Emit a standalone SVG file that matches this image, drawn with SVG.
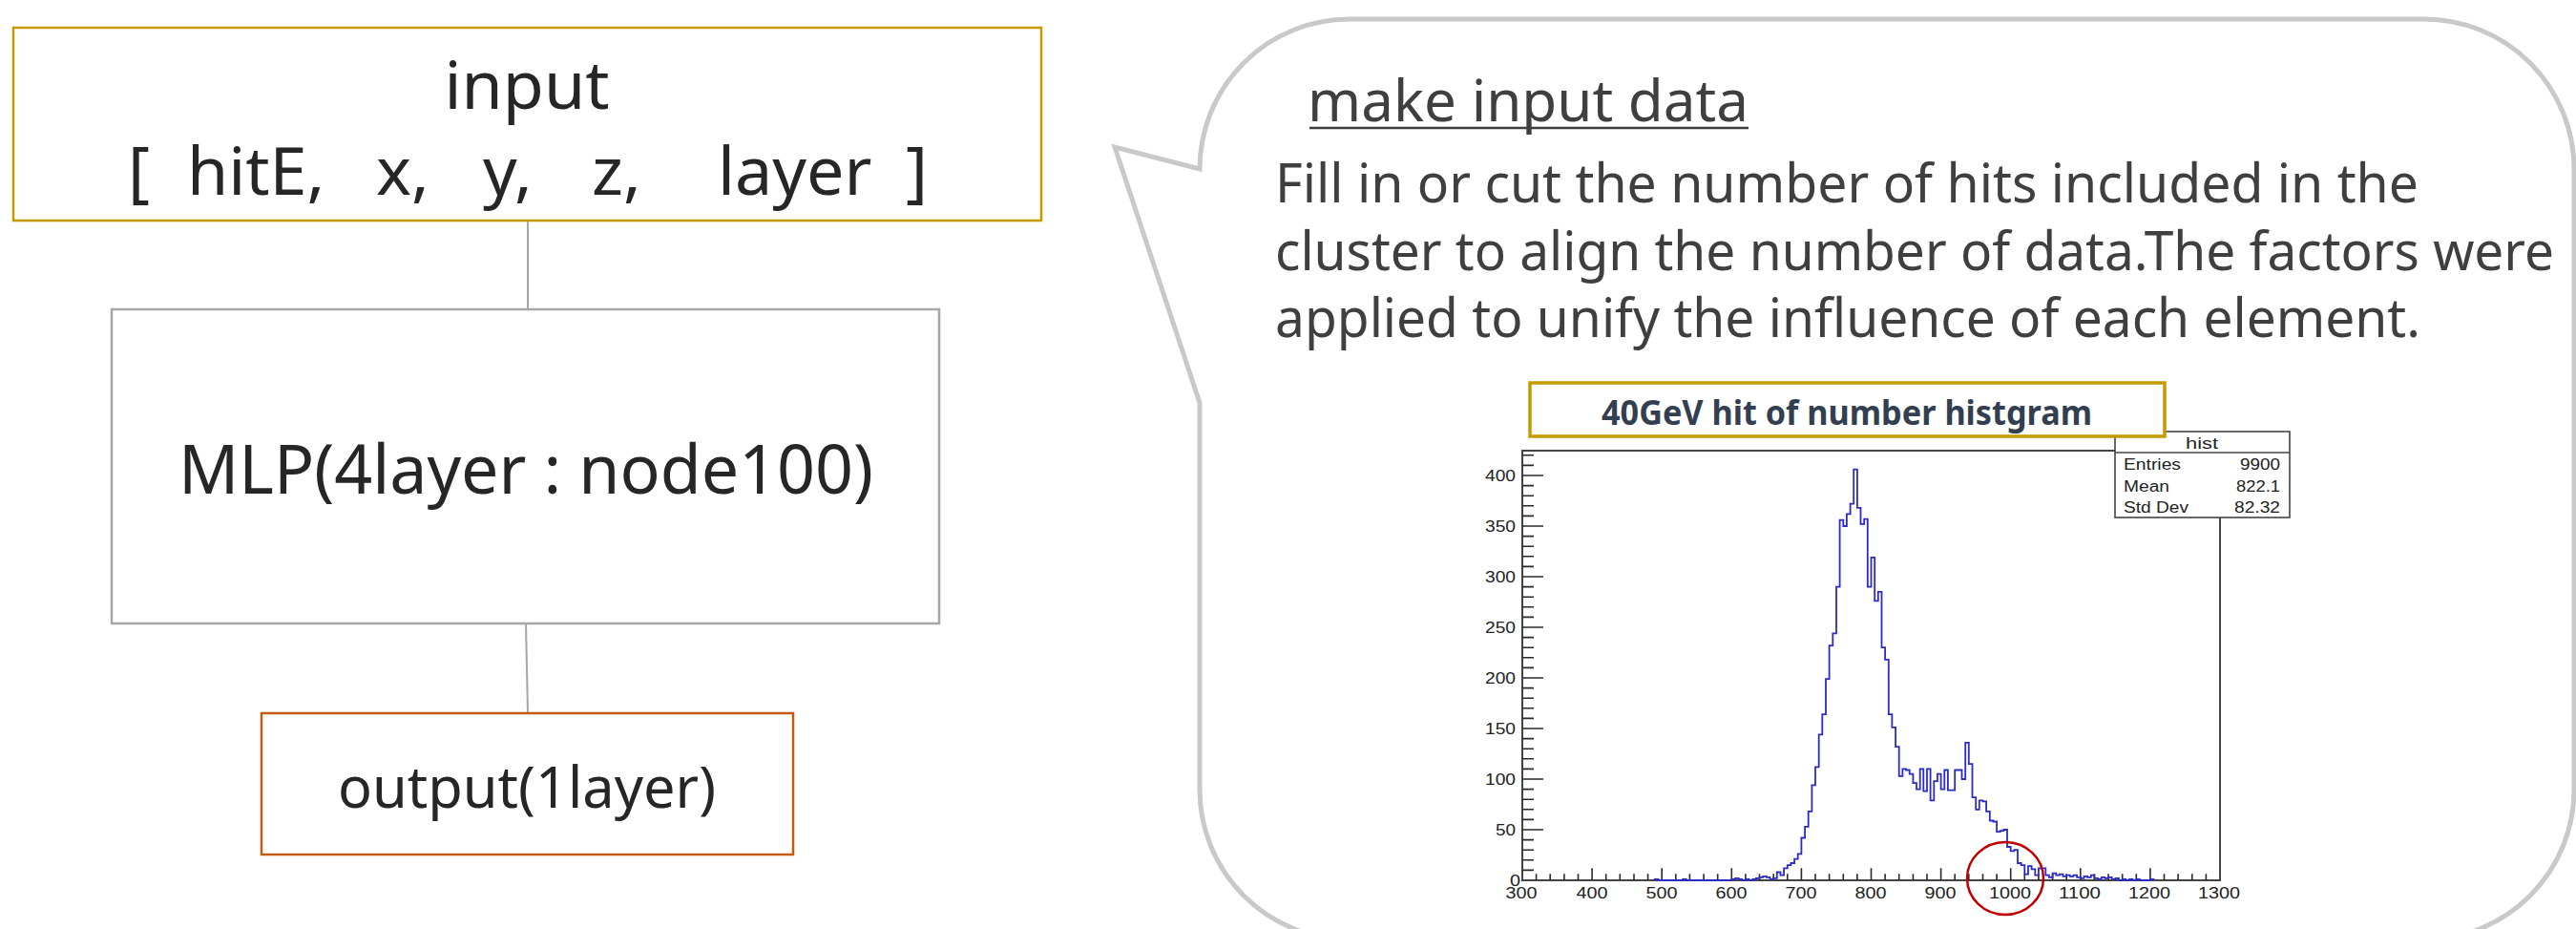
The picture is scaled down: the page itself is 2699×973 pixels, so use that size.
<svg xmlns="http://www.w3.org/2000/svg" width="2699" height="973" viewBox="0 0 2699 973">
  <style>
    .lbl { font-family: "Noto Sans", "Open Sans", sans-serif; fill: #262626; }
    .call { font-family: "Noto Sans", "Open Sans", sans-serif; fill: #3f3f3f; }
    .box { fill: #ffffff; stroke-width: 2.5; }
    .conn { stroke: #a6a6a6; stroke-width: 2; fill: none; }
    .ax { font-family: "Liberation Sans", Arial, sans-serif; font-size: 16px; fill: #222222; }
    .tick { stroke: #2a2a2a; stroke-width: 1.6; fill: none; }
  </style>
  <rect width="2699" height="973" fill="#ffffff"/>

  <!-- connectors between the network blocks -->
  <g id="connectors">
    <line class="conn" x1="553" y1="231" x2="553" y2="324"/>
    <line class="conn" x1="551" y1="653" x2="553" y2="747"/>
  </g>

  <g id="input">
    <rect class="box" x="14" y="29" width="1077" height="202" stroke="#c49a00"/>
    <text class="lbl" x="552" y="114" font-size="70" text-anchor="middle">input</text>
    <text class="lbl" y="204" font-size="70"><tspan x="134">[</tspan><tspan x="196">hitE,</tspan><tspan x="394">x,</tspan><tspan x="506">y,</tspan><tspan x="620">z,</tspan><tspan x="752">layer</tspan><tspan x="949">]</tspan></text>
  </g>

  <g id="mlp">
    <rect class="box" x="117" y="324" width="867" height="329" stroke="#a6a6a6"/>
    <text class="lbl" x="551" y="517" font-size="72" text-anchor="middle" textLength="728" lengthAdjust="spacingAndGlyphs">MLP(4layer : node100)</text>
  </g>

  <g id="output">
    <rect class="box" x="274" y="747" width="557" height="148" stroke="#c55a11"/>
    <text class="lbl" x="552" y="846" font-size="60" text-anchor="middle" textLength="396" lengthAdjust="spacingAndGlyphs">output(1layer)</text>
  </g>

  <!-- speech-bubble note with the histogram -->
  <g id="note">
    <path d="M1257 422 L1168 154 L1257 177 A157 157 0 0 1 1414 20 L2540 20 A157 157 0 0 1 2697 177 L2697 827 A157 157 0 0 1 2540 984 L1414 984 A157 157 0 0 1 1257 827 Z" fill="#ffffff" stroke="#c9c9c9" stroke-width="5" stroke-linejoin="miter"/>
    <text class="call" x="1370" y="127" font-size="60" textLength="462" lengthAdjust="spacingAndGlyphs">make input data</text>
    <line x1="1372" y1="134" x2="1832" y2="134" stroke="#3f3f3f" stroke-width="2.5"/>
    <text class="call" x="1336" y="212" font-size="56" textLength="1198" lengthAdjust="spacingAndGlyphs">Fill in or cut the number of hits included in the</text>
    <text class="call" x="1336" y="283" font-size="56" textLength="1340" lengthAdjust="spacingAndGlyphs">cluster to align the number of data.The factors were</text>
    <text class="call" x="1336" y="353" font-size="56" textLength="1200" lengthAdjust="spacingAndGlyphs">applied to unify the influence of each element.</text>
  </g>

  <g id="histogram">
    <!-- frame -->
    <rect x="1595" y="472" width="731" height="450" fill="none" stroke="#444444" stroke-width="2"/>
    <!-- y-axis ticks: minor every 10, major every 50 -->
    <path class="tick" d="M1595 911.4h12M1595 900.8h12M1595 890.2h12M1595 879.6h12M1595 858.4h12M1595 847.8h12M1595 837.2h12M1595 826.6h12M1595 805.4h12M1595 794.8h12M1595 784.2h12M1595 773.6h12M1595 752.4h12M1595 741.8h12M1595 731.2h12M1595 720.6h12M1595 699.4h12M1595 688.8h12M1595 678.2h12M1595 667.6h12M1595 646.4h12M1595 635.8h12M1595 625.2h12M1595 614.6h12M1595 593.4h12M1595 582.8h12M1595 572.2h12M1595 561.6h12M1595 540.4h12M1595 529.8h12M1595 519.2h12M1595 508.6h12M1595 487.4h12M1595 476.8h12"/>
    <path class="tick" d="M1595 869h22M1595 816h22M1595 763h22M1595 710h22M1595 657h22M1595 604h22M1595 551h22M1595 498h22"/>
    <!-- x-axis ticks: minor every 20, major every 100 -->
    <path class="tick" d="M1609.6 922v-6.7M1624.2 922v-6.7M1638.9 922v-6.7M1653.5 922v-6.7M1682.7 922v-6.7M1697.3 922v-6.7M1712 922v-6.7M1726.6 922v-6.7M1755.8 922v-6.7M1770.4 922v-6.7M1785.1 922v-6.7M1799.7 922v-6.7M1828.9 922v-6.7M1843.5 922v-6.7M1858.2 922v-6.7M1872.8 922v-6.7M1902 922v-6.7M1916.6 922v-6.7M1931.3 922v-6.7M1945.9 922v-6.7M1975.1 922v-6.7M1989.7 922v-6.7M2004.4 922v-6.7M2019 922v-6.7M2048.2 922v-6.7M2062.8 922v-6.7M2077.5 922v-6.7M2092.1 922v-6.7M2121.3 922v-6.7M2135.9 922v-6.7M2150.6 922v-6.7M2165.2 922v-6.7M2194.4 922v-6.7M2209 922v-6.7M2223.7 922v-6.7M2238.3 922v-6.7M2267.5 922v-6.7M2282.1 922v-6.7M2296.8 922v-6.7M2311.4 922v-6.7"/>
    <path class="tick" d="M1668.1 922v-12.7M1741.2 922v-12.7M1814.3 922v-12.7M1887.4 922v-12.7M1960.5 922v-12.7M2033.6 922v-12.7M2106.7 922v-12.7M2179.8 922v-12.7M2252.9 922v-12.7"/>
    <!-- y-axis labels -->
    <g class="ax" text-anchor="end">
      <text x="1588" y="504" textLength="32" lengthAdjust="spacingAndGlyphs">400</text>
      <text x="1588" y="557" textLength="32" lengthAdjust="spacingAndGlyphs">350</text>
      <text x="1588" y="610" textLength="32" lengthAdjust="spacingAndGlyphs">300</text>
      <text x="1588" y="663" textLength="32" lengthAdjust="spacingAndGlyphs">250</text>
      <text x="1588" y="716" textLength="32" lengthAdjust="spacingAndGlyphs">200</text>
      <text x="1588" y="769" textLength="32" lengthAdjust="spacingAndGlyphs">150</text>
      <text x="1588" y="822" textLength="32" lengthAdjust="spacingAndGlyphs">100</text>
      <text x="1588" y="875" textLength="21" lengthAdjust="spacingAndGlyphs">50</text>
      <text x="1593" y="928" textLength="11" lengthAdjust="spacingAndGlyphs">0</text>
    </g>
    <!-- x-axis labels -->
    <g class="ax" text-anchor="middle">
      <text x="1594" y="941" textLength="33" lengthAdjust="spacingAndGlyphs">300</text>
      <text x="1668" y="941" textLength="33" lengthAdjust="spacingAndGlyphs">400</text>
      <text x="1741" y="941" textLength="33" lengthAdjust="spacingAndGlyphs">500</text>
      <text x="1814" y="941" textLength="33" lengthAdjust="spacingAndGlyphs">600</text>
      <text x="1887" y="941" textLength="33" lengthAdjust="spacingAndGlyphs">700</text>
      <text x="1960" y="941" textLength="33" lengthAdjust="spacingAndGlyphs">800</text>
      <text x="2033" y="941" textLength="33" lengthAdjust="spacingAndGlyphs">900</text>
      <text x="2106" y="941" textLength="44" lengthAdjust="spacingAndGlyphs">1000</text>
      <text x="2179" y="941" textLength="44" lengthAdjust="spacingAndGlyphs">1100</text>
      <text x="2252" y="941" textLength="44" lengthAdjust="spacingAndGlyphs">1200</text>
      <text x="2325" y="941" textLength="44" lengthAdjust="spacingAndGlyphs">1300</text>
    </g>
    <!-- binned counts, 5 units per bin -->
    <path fill="none" stroke="#2b2bc8" stroke-width="1.8" d="M1733.9 922 V920.9 H1737.5 V922 H1763.1 V920.9 H1766.8 V922 H1814.3 V920.9 H1818 V919.9 H1821.6 V920.9 H1825.3 V922 H1828.9 V920.9 H1832.6 V922 H1836.2 V920.9 H1839.9 V919.9 H1843.5 V918.8 H1847.2 V917.8 H1850.9 V918.8 H1854.5 V920.9 H1858.2 V919.9 H1861.8 V913.5 H1865.5 V916.7 H1869.1 V909.3 H1872.8 V906.1 H1876.4 V904 H1880.1 V899.7 H1883.7 V894.4 H1887.4 V877.5 H1891.1 V865.8 H1894.7 V849.9 H1898.4 V822.4 H1902 V803.3 H1905.7 V769.4 H1909.3 V748.2 H1913 V711.1 H1916.6 V676.1 H1920.3 V663.4 H1924 V614.6 H1927.6 V544.6 H1931.3 V551 H1934.9 V538.3 H1938.6 V527.7 H1942.2 V491.6 H1945.9 V531.9 H1949.5 V548.9 H1953.2 V543.6 H1956.8 V614.6 H1960.5 V583.9 H1964.2 V629.4 H1967.8 V619.9 H1971.5 V678.2 H1975.1 V690.9 H1978.8 V748.2 H1982.4 V761.9 H1986.1 V782.1 H1989.7 V812.8 H1993.4 V805.4 H1997.1 V806.5 H2000.7 V810.7 H2004.4 V820.2 H2008 V826.6 H2011.7 V805.4 H2015.3 V828.7 H2019 V805.4 H2022.6 V838.3 H2026.3 V818.1 H2029.9 V810.7 H2033.6 V826.6 H2037.3 V806.5 H2040.9 V827.7 H2048.2 V806.5 H2055.5 V816 H2059.2 V777.8 H2062.8 V800.1 H2066.5 V835.1 H2070.2 V847.8 H2073.8 V838.3 H2077.5 V839.3 H2081.1 V849.9 H2084.8 V859.5 H2088.4 V860.5 H2092.1 V871.1 H2095.7 V870.1 H2099.4 V869 H2103 V887 H2106.7 V891.3 H2110.4 V890.2 H2114 V904 H2117.7 V906.1 H2121.3 V915.6 H2125 V907.2 H2128.6 V910.3 H2132.3 V916.7 H2135.9 V909.3 H2143.3 V916.7 H2146.9 V918.8 H2150.6 V914.6 H2154.2 V916.7 H2157.9 V915.6 H2161.5 V917.8 H2165.2 V916.7 H2168.8 V917.8 H2172.5 V916.7 H2176.1 V918.8 H2179.8 V919.9 H2183.5 V917.8 H2187.1 V918.8 H2190.8 V916.7 H2194.4 V919.9 H2198.1 V920.9 H2201.7 V918.8 H2205.4 V919.9 H2209 V918.8 H2212.7 V920.9 H2216.4 V919.9 H2220 V922 H2223.7 V920.9 H2227.3 V922 H2231 V920.9 H2234.6 V922 H2238.3 V920.9 H2241.9 V922 H2252.9 V920.9 H2256.5 V922"/>
    <!-- statistics box -->
    <rect x="2216" y="452" width="183" height="90" fill="#ffffff" stroke="#444444" stroke-width="1.6"/>
    <line x1="2216" y1="474" x2="2399" y2="474" stroke="#444444" stroke-width="1.6"/>
    <g class="ax" font-size="17">
      <text x="2307" y="470" text-anchor="middle" textLength="34" lengthAdjust="spacingAndGlyphs">hist</text>
      <text x="2225" y="492" textLength="60" lengthAdjust="spacingAndGlyphs">Entries</text>
      <text x="2225" y="515" textLength="48" lengthAdjust="spacingAndGlyphs">Mean</text>
      <text x="2225" y="537" textLength="68" lengthAdjust="spacingAndGlyphs">Std Dev</text>
      <text x="2389" y="492" text-anchor="end" textLength="42" lengthAdjust="spacingAndGlyphs">9900</text>
      <text x="2389" y="515" text-anchor="end" textLength="46" lengthAdjust="spacingAndGlyphs">822.1</text>
      <text x="2389" y="537" text-anchor="end" textLength="48" lengthAdjust="spacingAndGlyphs">82.32</text>
    </g>
    <!-- title -->
    <rect x="1603" y="401" width="665" height="56" fill="#ffffff" stroke="#c49a00" stroke-width="3.5"/>
    <text x="1935" y="445" font-family="Noto Sans, Open Sans, sans-serif" font-weight="700" font-size="36" fill="#333f50" text-anchor="middle" textLength="514" lengthAdjust="spacingAndGlyphs">40GeV hit of number histgram</text>
    <!-- highlight of the tail -->
    <ellipse cx="2101" cy="920" rx="40" ry="38" fill="none" stroke="#c00000" stroke-width="2.5"/>
  </g>
</svg>
